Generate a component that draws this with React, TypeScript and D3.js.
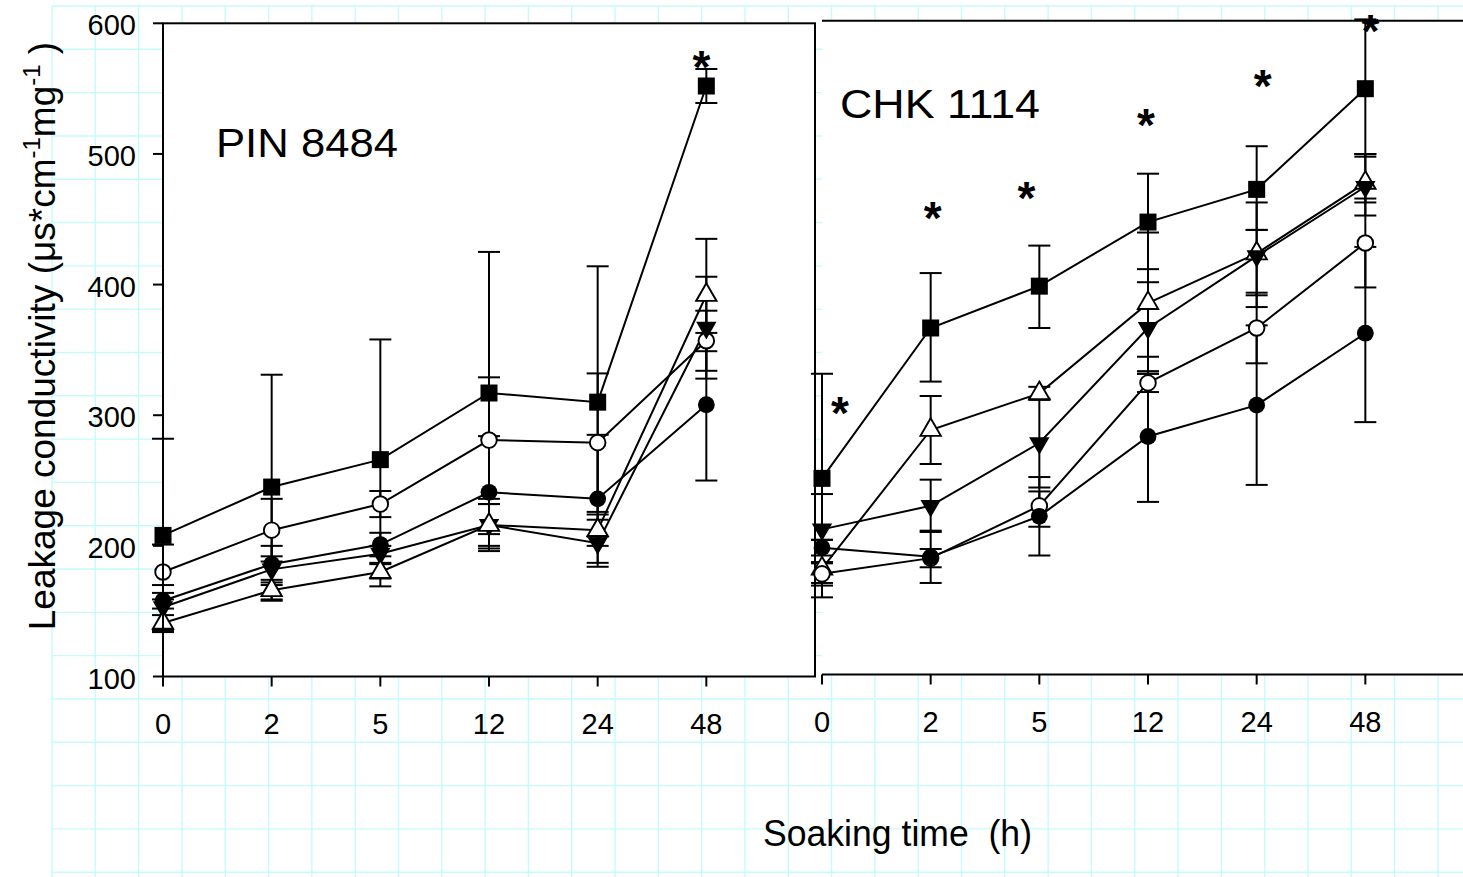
import React from 'react';
import * as d3 from 'd3';

const W = 1463;
const H = 877;
const FONT = '"Liberation Sans", Arial, Helvetica, sans-serif';

const times = ['0', '2', '5', '12', '24', '48'];
const yTicks = [100, 200, 300, 400, 500, 600];

// PIN 8484
const pinSquare = [208, 245, 266, 317, 310, 552];
const pinSquareHi = [282, 331, 358, 425, 414, 565];
const pinSquareLo = [134, 159, 175, 209, 207, 539];
const pinOpenCircle = [180, 212, 232, 281, 279, 357];
const pinOpenCircleHi = [201, 236, 242, 329, 332, 380];
const pinOpenCircleLo = [159, 188, 222, 232, 226, 334];
const pinCircle = [158, 186, 201, 241, 236, 308];
const pinCircleHi = [164, 200, 210, 284, 285, 363];
const pinCircleLo = [152, 172, 192, 198, 187, 250];
const pinDown = [153, 182, 194, 216, 202, 367];
const pinDownHi = [170, 192, 200, 236, 220, 406];
const pinDownLo = [136, 170, 187, 196, 184, 328];
const pinUp = [141, 166, 180, 216, 212, 392];
const pinUpHi = [147, 174, 186, 232, 224, 435];
const pinUpLo = [135, 158, 169, 200, 200, 349];
const pinStars = [null, null, null, null, null, 574];

// CHK 1114
const chkSquare = [250, 365, 397, 446, 471, 548];
const chkSquareHi = [330, 407, 428, 483, 504, 601];
const chkSquareLo = [170, 324, 365, 410, 440, 496];
const chkOpenCircle = [177, 189, 229, 323, 365, 430];
const chkOpenCircleHi = [186, 196, 240, 330, 392, 464];
const chkOpenCircleLo = [168, 182, 213, 316, 338, 396];
const chkCircle = [197, 190, 221, 282, 306, 361];
const chkCircleHi = [203, 210, 251, 332, 367, 427];
const chkCircleLo = [191, 170, 191, 232, 245, 293];
const chkDown = [211, 229, 277, 365, 420, 473];
const chkDownHi = [238, 249, 311, 400, 440, 498];
const chkDownLo = [185, 209, 243, 343, 381, 461];
const chkUp = [181, 287, 315, 384, 422, 476];
const chkUpHi = [203, 313, 320, 438, 461, 498];
const chkUpLo = [159, 261, 310, 330, 390, 451];
const chkStars = [308, 457, 472, 528, 558, 600];

type Marker = 'square' | 'circle' | 'ocircle' | 'down' | 'up';
interface Series { mean: number[]; hi: number[]; lo: number[]; marker: Marker }

const pinSeries: Series[] = [
  { mean: pinSquare, hi: pinSquareHi, lo: pinSquareLo, marker: 'square' },
  { mean: pinOpenCircle, hi: pinOpenCircleHi, lo: pinOpenCircleLo, marker: 'ocircle' },
  { mean: pinCircle, hi: pinCircleHi, lo: pinCircleLo, marker: 'circle' },
  { mean: pinDown, hi: pinDownHi, lo: pinDownLo, marker: 'down' },
  { mean: pinUp, hi: pinUpHi, lo: pinUpLo, marker: 'up' },
];
const chkSeries: Series[] = [
  { mean: chkSquare, hi: chkSquareHi, lo: chkSquareLo, marker: 'square' },
  { mean: chkUp, hi: chkUpHi, lo: chkUpLo, marker: 'up' },
  { mean: chkDown, hi: chkDownHi, lo: chkDownLo, marker: 'down' },
  { mean: chkOpenCircle, hi: chkOpenCircleHi, lo: chkOpenCircleLo, marker: 'ocircle' },
  { mean: chkCircle, hi: chkCircleHi, lo: chkCircleLo, marker: 'circle' },
];

const triPath = d3.symbol().type(d3.symbolTriangle).size(180)() || '';

function MarkerShape({ m, cx, cy }: { m: Marker; cx: number; cy: number }) {
  if (m === 'square') return <rect x={cx - 8.5} y={cy - 8.5} width={17} height={17} fill="#000" />;
  if (m === 'circle') return <circle cx={cx} cy={cy} r={8.4} fill="#000" />;
  if (m === 'ocircle') return <circle cx={cx} cy={cy} r={7.8} fill="#fff" stroke="#000" strokeWidth={1.9} />;
  if (m === 'down') return <path d={triPath} transform={`translate(${cx},${cy}) rotate(180)`} fill="#000" />;
  return <path d={triPath} transform={`translate(${cx},${cy})`} fill="#fff" stroke="#000" strokeWidth={1.9} />;
}

interface PanelProps {
  series: Series[];
  stars: (number | null)[];
  starNudge: number[];
  x0: number;
  x1: number;
  yTop: number;
  yBottom: number;
  boxed: boolean;
  title: string;
  titleX: number;
  titleY: number;
  titleLen: number;
}

function Panel(p: PanelProps) {
  const step = (p.x1 - p.x0) / 6;
  const x = d3.scalePoint<string>().domain(times).range([p.x0, p.x0 + step * 5]);
  const y = d3.scaleLinear().domain([100, 600]).range([p.yBottom, p.yTop]);
  const line = d3.line<number>().x((_, i) => x(times[i]) as number).y(d => y(d));
  const right = p.boxed ? p.x1 : W;
  const cap = 11;

  return (
    <g>
      <rect x={p.x0} y={p.yTop} width={right - p.x0} height={p.yBottom - p.yTop} fill="#fff" />

      {p.series.map((s, si) => (
        <path key={`l${si}`} d={line(s.mean) || ''} fill="none" stroke="#000" strokeWidth={2} />
      ))}

      {p.series.map((s, si) => (
        <g key={`e${si}`} stroke="#000" strokeWidth={2}>
          {s.mean.map((_, i) => {
            const cx = x(times[i]) as number;
            return (
              <g key={i}>
                <line x1={cx} x2={cx} y1={y(s.hi[i])} y2={y(s.lo[i])} />
                <line x1={cx - cap} x2={cx + cap} y1={y(s.hi[i])} y2={y(s.hi[i])} />
                <line x1={cx - cap} x2={cx + cap} y1={y(s.lo[i])} y2={y(s.lo[i])} />
              </g>
            );
          })}
        </g>
      ))}

      {p.series.map((s, si) => (
        <g key={`m${si}`}>
          {s.mean.map((v, i) => (
            <MarkerShape key={i} m={s.marker} cx={x(times[i]) as number} cy={y(v)} />
          ))}
        </g>
      ))}

      {p.stars.map((v, i) =>
        v == null ? null : (
          <text
            key={`s${i}`}
            x={(x(times[i]) as number) + p.starNudge[i]}
            y={y(v) + 26}
            textAnchor="middle"
            fontFamily={FONT}
            fontSize={46}
            fontWeight="bold"
          >
            *
          </text>
        )
      )}

      {/* axes / frame */}
      <g stroke="#000" strokeWidth={2} fill="none">
        {p.boxed ? (
          <rect x={p.x0} y={p.yTop} width={p.x1 - p.x0} height={p.yBottom - p.yTop} />
        ) : (
          <>
            <line x1={p.x0} x2={W} y1={p.yTop} y2={p.yTop} />
            <line x1={p.x0} x2={W} y1={p.yBottom} y2={p.yBottom} />
          </>
        )}
        {times.map(t => (
          <line key={t} x1={x(t)} x2={x(t)} y1={p.yBottom} y2={p.yBottom + 10} />
        ))}
        {p.boxed &&
          yTicks.map(t => <line key={t} x1={p.x0 - 10} x2={p.x0} y1={y(t)} y2={y(t)} />)}
      </g>

      {times.map(t => (
        <text key={t} x={x(t)} y={p.yBottom + 57} textAnchor="middle" fontFamily={FONT} fontSize={29}>
          {t}
        </text>
      ))}
      {p.boxed &&
        yTicks.map(t => (
          <text key={t} x={p.x0 - 27} y={y(t) + 12} textAnchor="end" fontFamily={FONT} fontSize={29}>
            {t}
          </text>
        ))}

      <text
        x={p.titleX}
        y={p.titleY}
        fontFamily={FONT}
        fontSize={41}
        textLength={p.titleLen}
        lengthAdjust="spacingAndGlyphs"
      >
        {p.title}
      </text>
    </g>
  );
}

export default function App() {
  const gridStep = 43.31;
  const gx = d3.range(52, W + 1, gridStep);
  const gy = d3.range(6, H + 1, gridStep);

  return (
    <svg width={W} height={H} style={{ position: 'absolute', left: 0, top: 0, background: '#fff' }}>
      <g stroke="#c6fbfb" strokeWidth={1.4}>
        {gx.map((v, i) => <line key={`gx${i}`} x1={v} x2={v} y1={6} y2={H} />)}
        {gy.map((v, i) => <line key={`gy${i}`} x1={52} x2={W} y1={v} y2={v} />)}
      </g>

      <Panel
        series={pinSeries}
        stars={pinStars}
        starNudge={[0, 0, 0, 0, 0, -5]}
        x0={163}
        x1={815}
        yTop={23.3}
        yBottom={676.5}
        boxed
        title="PIN 8484"
        titleX={216}
        titleY={157}
        titleLen={182}
      />
      <Panel
        series={chkSeries}
        stars={chkStars}
        starNudge={[18, 2, -13, -2, 6, 5]}
        x0={822}
        x1={1474}
        yTop={20.7}
        yBottom={674.5}
        boxed={false}
        title="CHK 1114"
        titleX={840}
        titleY={118}
        titleLen={200}
      />

      <text transform="translate(55,336) rotate(-90)" textAnchor="middle" fontFamily={FONT} fontSize={37}>
        Leakage conductivity (μs*cm
        <tspan dy={-15} fontSize={24}>-1</tspan>
        <tspan dy={15}>mg</tspan>
        <tspan dy={-15} fontSize={24}>-1</tspan>
        <tspan dy={15}> )</tspan>
      </text>

      <text
        x={763}
        y={846}
        fontFamily={FONT}
        fontSize={37}
        textLength={269}
        lengthAdjust="spacingAndGlyphs"
        style={{ whiteSpace: 'pre' }}
      >
        {'Soaking time  (h)'}
      </text>
    </svg>
  );
}
